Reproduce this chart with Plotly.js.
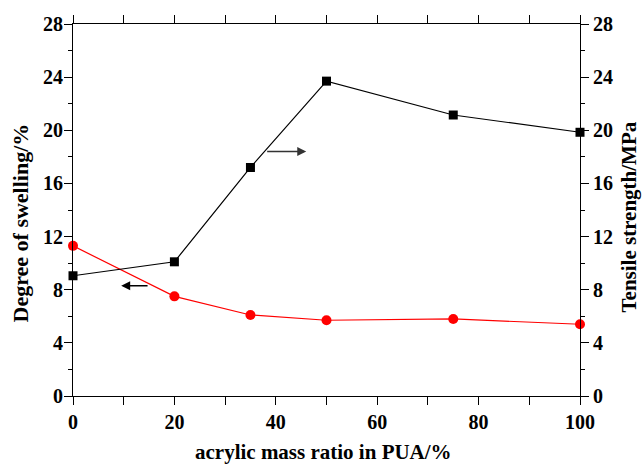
<!DOCTYPE html>
<html>
<head>
<meta charset="utf-8">
<script src="https://cdn.plot.ly/plotly-3.0.1.min.js"></script>
<style>html,body{margin:0;padding:0;background:#fff;}#chart{width:642px;height:464px;}</style>
</head>
<body>
<div id="chart"></div>
<script>
const acrylicRatio = [0, 20, 35, 50, 75, 100];
const swelling = [11.3, 7.5, 6.1, 5.7, 5.8, 5.4];
const tensile = [9.05, 10.1, 17.2, 23.7, 21.15, 19.85];
const yTicks = [0, 4, 8, 12, 16, 20, 24, 28];
const xTicks = [0, 20, 40, 60, 80, 100];
const xTitle = 'acrylic mass ratio in PUA/%';
const yTitle = 'Degree of swelling/%';
const y2Title = 'Tensile strength/MPa';

const fam = '"Liberation Serif", "Times New Roman", serif';
const tickFont = {family: fam, size: 20, color: '#000'};
const titleFont = {family: fam, size: 21, color: '#000'};

const traces = [
  {x: acrylicRatio, y: swelling, type: 'scatter', mode: 'lines+markers', yaxis: 'y',
   line: {color: '#ff0000', width: 1.2}, marker: {symbol: 'circle', size: 10, color: '#ff0000'}, cliponaxis: false},
  {x: acrylicRatio, y: tensile, type: 'scatter', mode: 'lines+markers', yaxis: 'y2',
   line: {color: '#000000', width: 1.2}, marker: {symbol: 'square', size: 9, color: '#000000'}, cliponaxis: false}
];

const axisCommon = {showgrid: false, zeroline: false, showline: true, linecolor: '#000', linewidth: 1,
  ticks: 'outside', ticklen: 8, tickwidth: 1, tickcolor: '#000', tickfont: tickFont};

const layout = {
  width: 642, height: 464,
  margin: {l: 73, r: 62, t: 24, b: 68},
  paper_bgcolor: '#fff', plot_bgcolor: '#fff',
  showlegend: false,
  font: tickFont,
  xaxis: Object.assign({}, axisCommon, {range: [0, 100], tickvals: xTicks, mirror: 'allticks',
    minor: {dtick: 10, ticklen: 4, ticks: 'outside', tickcolor: '#000'}}),
  yaxis: Object.assign({}, axisCommon, {range: [0, 28], tickvals: yTicks, ticklabelstandoff: -3,
    minor: {dtick: 2, ticklen: 4, ticks: 'outside', tickcolor: '#000'}}),
  yaxis2: Object.assign({}, axisCommon, {range: [0, 28], tickvals: yTicks, overlaying: 'y', side: 'right',
    minor: {dtick: 2, ticklen: 4, ticks: 'outside', tickcolor: '#000'}}),
  annotations: [
    {x: 9.5, y: 8.3, ax: 15, ay: 8.3, xref: 'x', yref: 'y', axref: 'x', ayref: 'y', text: '',
     showarrow: true, arrowhead: 2, arrowsize: 1.2, arrowwidth: 1.5, arrowcolor: '#000'},
    {x: 46, y: 18.4, ax: 38, ay: 18.4, xref: 'x', yref: 'y', axref: 'x', ayref: 'y', text: '',
     showarrow: true, arrowhead: 2, arrowsize: 1.2, arrowwidth: 1.5, arrowcolor: '#333'},
    {text: '<b>' + xTitle + '</b>', xref: 'paper', yref: 'paper', x: 0.495, y: -0.1505,
     xanchor: 'center', yanchor: 'middle', showarrow: false, font: titleFont},
    {text: '<b>' + yTitle + '</b>', xref: 'paper', yref: 'paper', x: -0.1036, y: 0.465, textangle: -90,
     xanchor: 'center', yanchor: 'middle', showarrow: false, font: {family: fam, size: 22, color: '#000'}},
    {text: '<b>' + y2Title + '</b>', xref: 'paper', yref: 'paper', x: 1.0966, y: 0.4825, textangle: -90,
     xanchor: 'center', yanchor: 'middle', showarrow: false, font: titleFont}
  ]
};

layout.xaxis.ticktext = xTicks.map(v => '<b>' + v + '</b>');
layout.yaxis.ticktext = yTicks.map(v => '<b>' + v + '</b>');
layout.yaxis2.ticktext = yTicks.map(v => '<b>' + v + '</b>');

Plotly.newPlot('chart', traces, layout, {staticPlot: true, displayModeBar: false});
</script>
</body>
</html>
